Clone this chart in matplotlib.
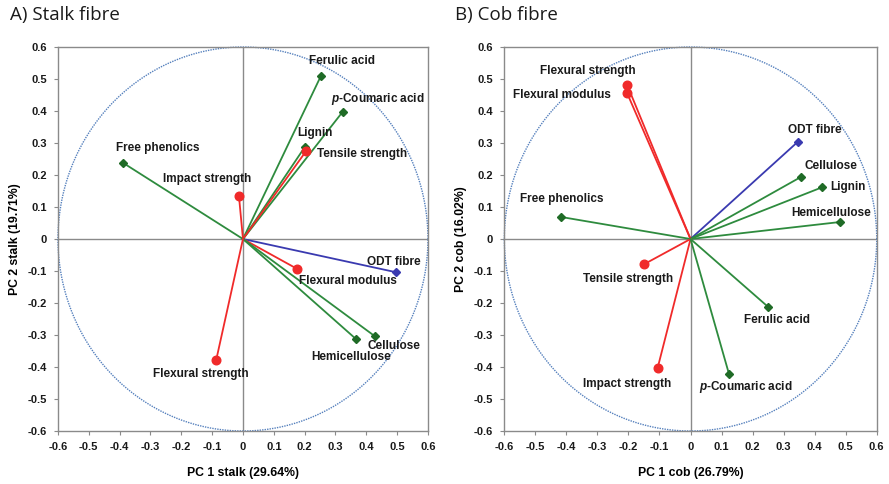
import numpy as np
import matplotlib
matplotlib.use("Agg")
import matplotlib.pyplot as plt

plt.rcParams['font.family'] = ['Liberation Sans', 'DejaVu Sans']
plt.rcParams['mathtext.fontset'] = 'custom'
plt.rcParams['mathtext.it'] = 'Liberation Sans:italic:bold'
plt.rcParams['mathtext.rm'] = 'Liberation Sans:bold'

# ---- Stalk fibre loadings ----
stalk_names = ["Ferulic acid", "$\\mathit{p}$-Coumaric acid", "Lignin", "Tensile strength",
               "Free phenolics", "Impact strength", "ODT fibre", "Flexural modulus",
               "Cellulose", "Hemicellulose", "Flexural strength"]
stalk_pc1 = [0.253, 0.323, 0.201, 0.205, -0.389, -0.013, 0.497, 0.175, 0.428, 0.367, -0.087]
stalk_pc2 = [0.510, 0.397, 0.288, 0.275, 0.238, 0.134, -0.104, -0.093, -0.304, -0.313, -0.379]
stalk_group = ["chem", "chem", "chem", "mech", "chem", "mech", "fibre", "mech",
               "chem", "chem", "mech"]

# ---- Cob fibre loadings ----
cob_names = ["Flexural strength", "Flexural modulus", "ODT fibre", "Cellulose", "Lignin",
             "Hemicellulose", "Free phenolics", "Tensile strength", "Ferulic acid",
             "Impact strength", "$\\mathit{p}$-Coumaric acid"]
cob_pc1 = [-0.204, -0.204, 0.346, 0.356, 0.425, 0.481, -0.418, -0.150, 0.251, -0.106, 0.124]
cob_pc2 = [0.481, 0.455, 0.304, 0.194, 0.162, 0.053, 0.069, -0.079, -0.213, -0.403, -0.422]
cob_group = ["mech", "mech", "fibre", "chem", "chem", "chem", "chem", "mech", "chem",
             "mech", "chem"]

ticks = [-0.6, -0.5, -0.4, -0.3, -0.2, -0.1, 0, 0.1, 0.2, 0.3, 0.4, 0.5, 0.6]
tick_labels = ["-0.6", "-0.5", "-0.4", "-0.3", "-0.2", "-0.1", "0",
               "0.1", "0.2", "0.3", "0.4", "0.5", "0.6"]

# label offsets (points) from each vector tip
stalk_offsets = [(15, 10.3), (25.3, 9.6), (7.4, 9.9), (40.2, -2.2), (24.7, 10.6),
                 (-22.8, 12.2), (-1.6, 7.6), (36.9, -8.6), (13.5, -7.2), (-3.7, -13),
                 (-10.8, -10.1)]
cob_offsets = [(-28.4, 10.1), (-46.8, -0.9), (12.1, 8.4), (21.5, 7.9), (18.1, 0.2),
               (-6.6, 6.7), (0.6, 12.7), (-11.4, -10.4), (6.3, -9.1), (-22.2, -11.3),
               (12.3, -9.4)]

styles = {
    "chem": dict(line="#2e8b3e", face="#1f6b26", marker="D", ms=4),
    "mech": dict(line="#f02a2a", face="#f02a2a", marker="o", ms=6.2),
    "fibre": dict(line="#3a3ab0", face="#3a3ab0", marker="D", ms=4),
}


def draw_panel(ax, names, pc1, pc2, groups, offsets, xlabel, ylabel):
    ax.set_xlim(-0.6, 0.6)
    ax.set_ylim(-0.6, 0.6)
    for sp in ax.spines.values():
        sp.set_color("#8a8a8a")
        sp.set_linewidth(1.0)
    ax.axhline(0, color="#8a8a8a", lw=1.0, zorder=1)
    ax.axvline(0, color="#8a8a8a", lw=1.0, zorder=1)
    t = np.linspace(0, 2 * np.pi, 400)
    ax.plot(0.6 * np.cos(t), 0.6 * np.sin(t), ls=(0, (1, 0.8)), color="#5580bd",
            lw=1.0, zorder=2, clip_on=False)
    for name, x, y, g, off in zip(names, pc1, pc2, groups, offsets):
        st = styles[g]
        ax.plot([0, x], [0, y], color=st["line"], lw=1.3, zorder=3)
        ax.plot([x], [y], marker=st["marker"], ms=st["ms"], color=st["face"],
                mec=st["face"], zorder=4)
        ax.annotate(name, (x, y), xytext=off, textcoords="offset points",
                    ha="center", va="center", fontsize=8.5, fontweight="bold",
                    color="#1a1a1a", zorder=5)
    ax.set_xticks(ticks)
    ax.set_xticklabels(tick_labels)
    ax.set_yticks(ticks)
    ax.set_yticklabels(tick_labels)
    ax.tick_params(direction="out", length=3, color="#8a8a8a", labelsize=8,
                   pad=5)
    for lab in ax.get_xticklabels() + ax.get_yticklabels():
        lab.set_fontweight("bold")
        lab.set_color("#1a1a1a")
    ax.set_xlabel(xlabel, fontsize=8.8, fontweight="bold", labelpad=11)
    ax.set_ylabel(ylabel, fontsize=8.8, fontweight="bold", labelpad=5)


fig = plt.figure(figsize=(8.89, 4.84), dpi=100)
ax1 = fig.add_axes([0.0652, 0.1095, 0.4162, 0.7934])
ax2 = fig.add_axes([0.5673, 0.1095, 0.4189, 0.7934])

draw_panel(ax1, stalk_names, stalk_pc1, stalk_pc2, stalk_group, stalk_offsets,
           "PC 1 stalk (29.64%)", "PC 2 stalk (19.71%)")
draw_panel(ax2, cob_names, cob_pc1, cob_pc2, cob_group, cob_offsets,
           "PC 1 cob (26.79%)", "PC 2 cob (16.02%)")

fig.text(0.011, 0.968, "A) Stalk fibre", fontsize=13.5, family="Open Sans",
         ha="left", va="center", color="#1a1a1a")
fig.text(0.512, 0.968, "B) Cob fibre", fontsize=13.5, family="Open Sans",
         ha="left", va="center", color="#1a1a1a")

fig.savefig("out.png", dpi=100)
